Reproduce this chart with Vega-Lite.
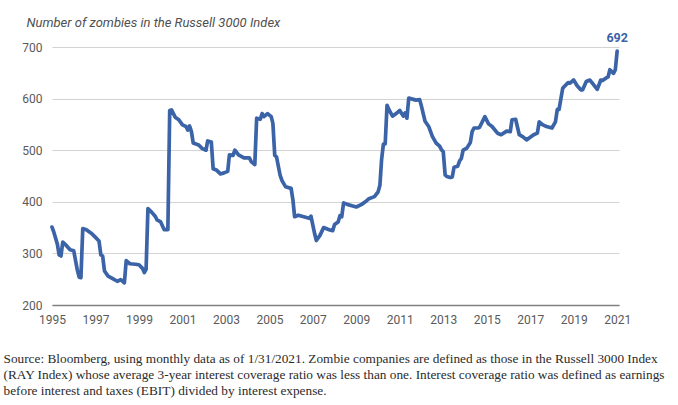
{
  "$schema": "https://vega.github.io/schema/vega-lite/v6.json",
  "width": 567,
  "height": 258,
  "autosize": {"type": "none"},
  "padding": {"left": 52, "top": 47, "right": 59, "bottom": 100},
  "background": "white",
  "config": {
    "view": {"stroke": null},
    "axis": {"labelFont": "Roboto", "labelFontSize": 12, "labelColor": "#5a5a5a", "ticks": false}
  },
  "data": {
    "values": [
      {"date": "1995-01-01", "zombies": 351}, {"date": "1995-02-01", "zombies": 341}, {"date": "1995-04-01", "zombies": 318},
      {"date": "1995-05-01", "zombies": 297}, {"date": "1995-06-01", "zombies": 295}, {"date": "1995-07-01", "zombies": 322},
      {"date": "1995-09-01", "zombies": 315}, {"date": "1995-11-01", "zombies": 307}, {"date": "1996-01-01", "zombies": 305},
      {"date": "1996-02-01", "zombies": 286}, {"date": "1996-03-01", "zombies": 268}, {"date": "1996-04-01", "zombies": 254},
      {"date": "1996-05-01", "zombies": 253}, {"date": "1996-06-01", "zombies": 348}, {"date": "1996-08-01", "zombies": 346},
      {"date": "1996-11-01", "zombies": 338}, {"date": "1997-01-01", "zombies": 331}, {"date": "1997-03-01", "zombies": 324},
      {"date": "1997-04-01", "zombies": 297}, {"date": "1997-05-01", "zombies": 295}, {"date": "1997-06-01", "zombies": 266},
      {"date": "1997-08-01", "zombies": 256}, {"date": "1997-11-01", "zombies": 250}, {"date": "1998-01-01", "zombies": 246},
      {"date": "1998-03-01", "zombies": 249}, {"date": "1998-05-01", "zombies": 243}, {"date": "1998-06-01", "zombies": 286},
      {"date": "1998-08-01", "zombies": 280}, {"date": "1998-11-01", "zombies": 279}, {"date": "1999-01-01", "zombies": 278},
      {"date": "1999-03-01", "zombies": 271}, {"date": "1999-04-01", "zombies": 263}, {"date": "1999-05-01", "zombies": 269},
      {"date": "1999-06-01", "zombies": 387}, {"date": "1999-08-01", "zombies": 380}, {"date": "1999-10-01", "zombies": 372},
      {"date": "1999-11-01", "zombies": 365}, {"date": "2000-01-01", "zombies": 361}, {"date": "2000-03-01", "zombies": 346},
      {"date": "2000-05-01", "zombies": 346}, {"date": "2000-06-01", "zombies": 577}, {"date": "2000-07-01", "zombies": 578},
      {"date": "2000-09-01", "zombies": 564}, {"date": "2000-11-01", "zombies": 559}, {"date": "2001-01-01", "zombies": 549},
      {"date": "2001-03-01", "zombies": 546}, {"date": "2001-04-01", "zombies": 539}, {"date": "2001-05-01", "zombies": 547},
      {"date": "2001-06-01", "zombies": 536}, {"date": "2001-07-01", "zombies": 514}, {"date": "2001-10-01", "zombies": 510},
      {"date": "2001-12-01", "zombies": 503}, {"date": "2002-02-01", "zombies": 500}, {"date": "2002-03-01", "zombies": 518},
      {"date": "2002-05-01", "zombies": 516}, {"date": "2002-06-01", "zombies": 464}, {"date": "2002-08-01", "zombies": 461},
      {"date": "2002-10-01", "zombies": 454}, {"date": "2002-12-01", "zombies": 456}, {"date": "2003-02-01", "zombies": 459},
      {"date": "2003-03-01", "zombies": 491}, {"date": "2003-05-01", "zombies": 490}, {"date": "2003-06-01", "zombies": 500},
      {"date": "2003-08-01", "zombies": 491}, {"date": "2003-11-01", "zombies": 485}, {"date": "2004-02-01", "zombies": 485},
      {"date": "2004-03-01", "zombies": 478}, {"date": "2004-05-01", "zombies": 472}, {"date": "2004-06-01", "zombies": 562},
      {"date": "2004-08-01", "zombies": 560}, {"date": "2004-09-01", "zombies": 571}, {"date": "2004-10-01", "zombies": 565},
      {"date": "2004-12-01", "zombies": 571}, {"date": "2005-02-01", "zombies": 565}, {"date": "2005-03-01", "zombies": 552},
      {"date": "2005-04-01", "zombies": 490}, {"date": "2005-05-01", "zombies": 487}, {"date": "2005-07-01", "zombies": 451},
      {"date": "2005-08-01", "zombies": 441}, {"date": "2005-10-01", "zombies": 429}, {"date": "2006-01-01", "zombies": 426},
      {"date": "2006-02-01", "zombies": 403}, {"date": "2006-03-01", "zombies": 371}, {"date": "2006-05-01", "zombies": 374},
      {"date": "2006-08-01", "zombies": 371}, {"date": "2006-11-01", "zombies": 368}, {"date": "2006-12-01", "zombies": 372},
      {"date": "2007-02-01", "zombies": 338}, {"date": "2007-03-01", "zombies": 325}, {"date": "2007-05-01", "zombies": 335},
      {"date": "2007-07-01", "zombies": 350}, {"date": "2007-10-01", "zombies": 346}, {"date": "2007-12-01", "zombies": 344},
      {"date": "2008-01-01", "zombies": 356}, {"date": "2008-03-01", "zombies": 361}, {"date": "2008-04-01", "zombies": 373},
      {"date": "2008-05-01", "zombies": 371}, {"date": "2008-06-01", "zombies": 398}, {"date": "2008-08-01", "zombies": 395},
      {"date": "2008-11-01", "zombies": 392}, {"date": "2009-01-01", "zombies": 390}, {"date": "2009-04-01", "zombies": 395},
      {"date": "2009-06-01", "zombies": 400}, {"date": "2009-08-01", "zombies": 406}, {"date": "2009-11-01", "zombies": 410},
      {"date": "2010-01-01", "zombies": 419}, {"date": "2010-02-01", "zombies": 432}, {"date": "2010-03-01", "zombies": 481},
      {"date": "2010-04-01", "zombies": 512}, {"date": "2010-05-01", "zombies": 512}, {"date": "2010-06-01", "zombies": 587},
      {"date": "2010-07-01", "zombies": 579}, {"date": "2010-09-01", "zombies": 566}, {"date": "2010-11-01", "zombies": 571},
      {"date": "2011-01-01", "zombies": 577}, {"date": "2011-03-01", "zombies": 566}, {"date": "2011-04-01", "zombies": 572},
      {"date": "2011-05-01", "zombies": 562}, {"date": "2011-06-01", "zombies": 601}, {"date": "2011-08-01", "zombies": 599},
      {"date": "2011-10-01", "zombies": 597}, {"date": "2011-12-01", "zombies": 598}, {"date": "2012-01-01", "zombies": 585},
      {"date": "2012-03-01", "zombies": 556}, {"date": "2012-05-01", "zombies": 546}, {"date": "2012-07-01", "zombies": 527},
      {"date": "2012-09-01", "zombies": 514}, {"date": "2012-11-01", "zombies": 508}, {"date": "2012-12-01", "zombies": 501},
      {"date": "2013-01-01", "zombies": 497}, {"date": "2013-02-01", "zombies": 452}, {"date": "2013-03-01", "zombies": 449},
      {"date": "2013-05-01", "zombies": 447}, {"date": "2013-06-01", "zombies": 448}, {"date": "2013-07-01", "zombies": 467},
      {"date": "2013-09-01", "zombies": 469}, {"date": "2013-10-01", "zombies": 479}, {"date": "2013-11-01", "zombies": 484},
      {"date": "2013-12-01", "zombies": 500}, {"date": "2014-02-01", "zombies": 504}, {"date": "2014-04-01", "zombies": 515},
      {"date": "2014-05-01", "zombies": 536}, {"date": "2014-06-01", "zombies": 543}, {"date": "2014-08-01", "zombies": 543},
      {"date": "2014-09-01", "zombies": 544}, {"date": "2014-12-01", "zombies": 565}, {"date": "2015-02-01", "zombies": 551},
      {"date": "2015-04-01", "zombies": 546}, {"date": "2015-07-01", "zombies": 533}, {"date": "2015-09-01", "zombies": 530},
      {"date": "2015-12-01", "zombies": 537}, {"date": "2016-02-01", "zombies": 536}, {"date": "2016-03-01", "zombies": 559},
      {"date": "2016-05-01", "zombies": 560}, {"date": "2016-07-01", "zombies": 530}, {"date": "2016-09-01", "zombies": 526},
      {"date": "2016-11-01", "zombies": 520}, {"date": "2017-01-01", "zombies": 525}, {"date": "2017-03-01", "zombies": 530},
      {"date": "2017-05-01", "zombies": 533}, {"date": "2017-06-01", "zombies": 555}, {"date": "2017-08-01", "zombies": 549},
      {"date": "2017-10-01", "zombies": 546}, {"date": "2018-01-01", "zombies": 543}, {"date": "2018-03-01", "zombies": 555},
      {"date": "2018-04-01", "zombies": 579}, {"date": "2018-05-01", "zombies": 579}, {"date": "2018-07-01", "zombies": 620},
      {"date": "2018-08-01", "zombies": 624}, {"date": "2018-10-01", "zombies": 631}, {"date": "2018-11-01", "zombies": 630},
      {"date": "2019-01-01", "zombies": 636}, {"date": "2019-03-01", "zombies": 625}, {"date": "2019-05-01", "zombies": 617},
      {"date": "2019-06-01", "zombies": 617}, {"date": "2019-08-01", "zombies": 633}, {"date": "2019-10-01", "zombies": 636},
      {"date": "2019-12-01", "zombies": 627}, {"date": "2020-02-01", "zombies": 618}, {"date": "2020-04-01", "zombies": 636},
      {"date": "2020-05-01", "zombies": 635}, {"date": "2020-07-01", "zombies": 640}, {"date": "2020-08-01", "zombies": 642},
      {"date": "2020-09-01", "zombies": 656}, {"date": "2020-11-01", "zombies": 649}, {"date": "2020-12-01", "zombies": 656},
      {"date": "2021-01-01", "zombies": 692}
    ]
  },
  "encoding": {
    "x": {
      "field": "date",
      "type": "temporal",
      "scale": {"type": "utc", "domain": [{"year": 1995, "month": 1, "date": 1, "utc": true}, {"year": 2021, "month": 2, "date": 1, "utc": true}]},
      "axis": {
        "values": [
          {"year": 1995, "utc": true}, {"year": 1997, "utc": true}, {"year": 1999, "utc": true}, {"year": 2001, "utc": true},
          {"year": 2003, "utc": true}, {"year": 2005, "utc": true}, {"year": 2007, "utc": true}, {"year": 2009, "utc": true},
          {"year": 2011, "utc": true}, {"year": 2013, "utc": true}, {"year": 2015, "utc": true}, {"year": 2017, "utc": true},
          {"year": 2019, "utc": true}, {"year": 2021, "utc": true}
        ],
        "format": "%Y",
        "formatType": "utc",
        "grid": false,
        "domain": true,
        "domainColor": "#808080",
        "domainWidth": 1.5,
        "labelPadding": 9,
        "labelFlush": false,
        "labelOverlap": false,
        "title": [
          "Source: Bloomberg, using monthly data as of 1/31/2021. Zombie companies are defined as those in the Russell 3000 Index",
          "(RAY Index) whose average 3-year interest coverage ratio was less than one. Interest coverage ratio was defined as earnings",
          "before interest and taxes (EBIT) divided by interest expense."
        ],
        "titleFont": "Liberation Serif",
        "titleFontSize": 13.3,
        "titleFontWeight": "normal",
        "titleColor": "#2b2b2b",
        "titleAlign": "left",
        "titleAnchor": "start",
        "titleBaseline": "top",
        "titleLineHeight": 16,
        "titleX": -49,
        "titleY": 46
      }
    },
    "y": {
      "field": "zombies",
      "type": "quantitative",
      "scale": {"domain": [200, 700], "nice": false, "zero": false},
      "axis": {
        "values": [200, 300, 400, 500, 600, 700],
        "grid": true,
        "gridColor": "#d3d3d3",
        "gridWidth": 1,
        "domain": false,
        "labelPadding": 10,
        "title": "Number of zombies in the Russell 3000 Index",
        "titleFont": "Roboto",
        "titleFontSize": 13,
        "titleFontStyle": "italic",
        "titleFontWeight": "normal",
        "titleColor": "#505050",
        "titleAngle": 0,
        "titleAlign": "left",
        "titleBaseline": "middle",
        "titleX": -26,
        "titleY": -25
      }
    }
  },
  "layer": [
    {
      "mark": {"type": "line", "color": "#3b63a8", "strokeWidth": 3.7, "strokeJoin": "round", "strokeCap": "round"}
    },
    {
      "transform": [{"filter": "datum.zombies == 692"}],
      "mark": {"type": "text", "color": "#3b63a8", "fontWeight": "bold", "font": "Roboto", "fontSize": 12.5, "baseline": "bottom", "dy": -6},
      "encoding": {"text": {"field": "zombies", "type": "quantitative"}}
    }
  ]
}
